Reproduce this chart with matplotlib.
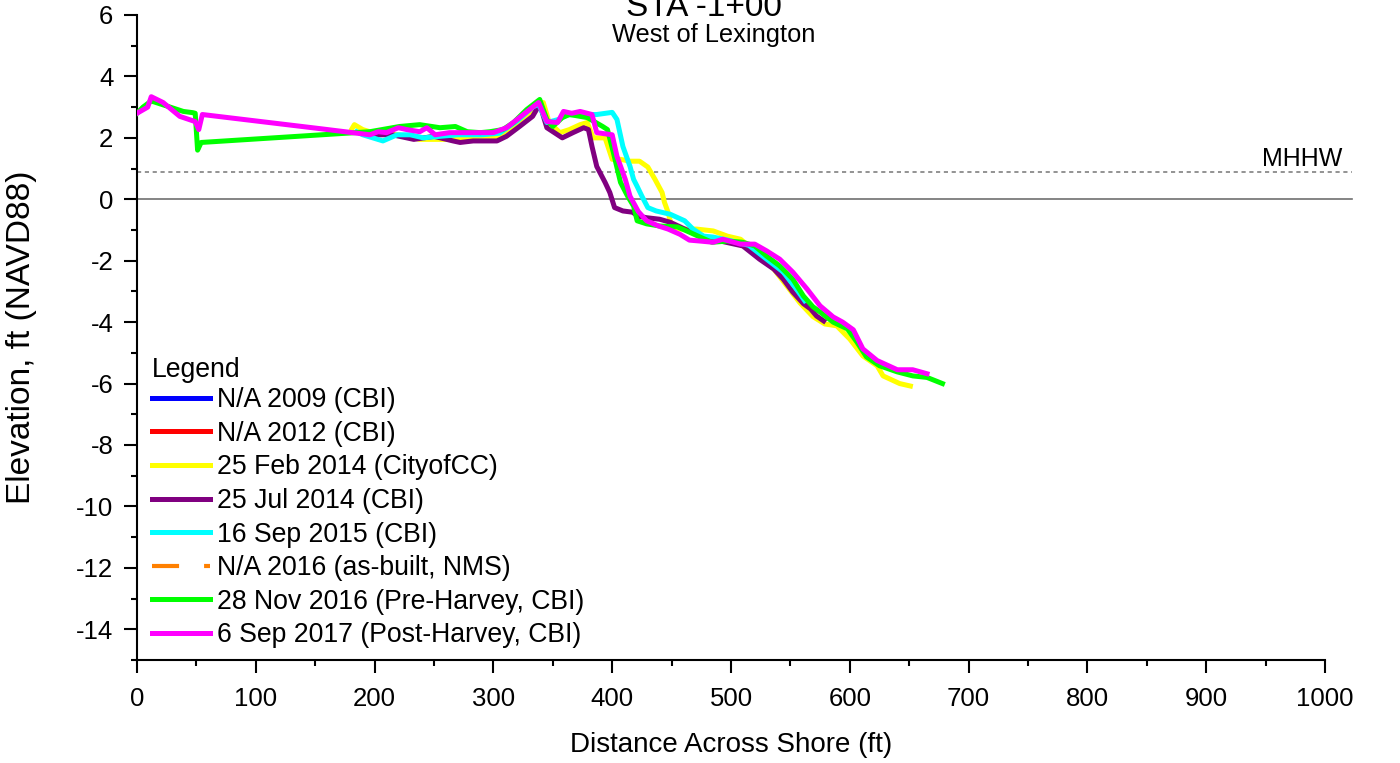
#!/usr/bin/env python3
# Beach profile, STA -1+00 (West of Lexington)

import matplotlib
matplotlib.use('Agg')
import matplotlib.pyplot as plt
from matplotlib.ticker import MultipleLocator

# survey profiles: distance across shore (ft) and elevation (ft NAVD88)
feb2014_x = [181, 183, 190, 200, 220, 238, 263, 289, 306, 320, 333, 342, 347, 356, 364, 373, 379, 384, 394,
             400, 407, 415, 423, 430, 436, 442, 444, 447, 450, 457, 471, 485, 497, 508, 513, 524, 536, 547,
             558, 569, 579, 589, 600, 611, 623, 628, 642, 651]
feb2014_y = [2.3, 2.43, 2.27, 2.15, 2.1, 1.95, 1.95, 2.05, 2.05, 2.5, 2.9, 3.15, 2.5, 2.17, 2.27, 2.43, 2.5, 2.0, 2.0,
             1.3, 1.3, 1.24, 1.24, 1.05, 0.65, 0.22, -0.1, -0.42, -0.87, -0.97, -0.97, -1.03, -1.2, -1.3, -1.46,
             -1.85, -2.27, -2.82, -3.37, -3.82, -4.06, -4.12, -4.55, -5.1, -5.42, -5.75, -6.0, -6.08]

jul2014_x = [195, 203, 215, 233, 250, 266, 272, 283, 289, 303, 311, 322, 333, 339, 345, 358, 367, 376, 380, 383,
             387, 394, 398, 402, 409, 417, 422, 429, 440, 449, 460, 474, 490, 510, 524, 536, 544, 552, 561, 567,
             572, 578]
jul2014_y = [2.15, 2.1, 2.1, 1.95, 2.05, 1.9, 1.85, 1.9, 1.9, 1.9, 2.05, 2.37, 2.7, 3.1, 2.33, 2.0, 2.17, 2.33,
             2.27, 1.72, 1.07, 0.55, 0.22, -0.27, -0.38, -0.42, -0.55, -0.6, -0.65, -0.75, -0.95, -1.2, -1.35,
             -1.52, -1.95, -2.27, -2.6, -3.02, -3.4, -3.57, -3.8, -3.96]

sep2015_x = [185, 190, 207, 219, 230, 241, 255, 270, 290, 305, 320, 333, 338, 345, 355, 362, 370, 387, 400, 404,
             409, 415, 418, 421, 425, 430, 437, 449, 461, 468, 477, 485, 500, 515, 530, 544, 555, 562]
sep2015_y = [2.2, 2.1, 1.9, 2.1, 2.1, 2.0, 2.05, 2.1, 2.1, 2.15, 2.55, 3.0, 3.1, 2.5, 2.6, 2.75, 2.76, 2.76, 2.83,
             2.6, 1.72, 1.07, 0.65, 0.42, 0.1, -0.27, -0.38, -0.49, -0.7, -0.97, -1.2, -1.23, -1.35, -1.5,
             -1.95, -2.37, -2.92, -3.3]

nov2016_x = [0, 5, 12, 28, 39, 47, 49, 51, 54, 196, 221, 238, 255, 268, 278, 289, 297, 308, 317, 328, 339, 345,
             350, 358, 364, 373, 379, 392, 396, 401, 407, 413, 418, 421, 429, 440, 455, 465, 474, 484, 497, 510,
             520, 530, 541, 552, 561, 569, 575, 586, 598, 606, 614, 625, 640, 653, 665, 678]
nov2016_y = [2.8, 3.0, 3.2, 3.0, 2.86, 2.82, 2.8, 1.6, 1.85, 2.2, 2.37, 2.43, 2.33, 2.37, 2.2, 2.17, 2.2, 2.27,
             2.5, 2.92, 3.25, 2.6, 2.37, 2.66, 2.76, 2.7, 2.66, 2.37, 2.27, 1.52, 0.55, 0.1, -0.22, -0.7, -0.8,
             -0.87, -0.9, -1.07, -1.23, -1.4, -1.36, -1.4, -1.52, -1.85, -2.17, -2.6, -3.15, -3.5, -3.67, -4.0,
             -4.22, -4.65, -5.13, -5.42, -5.62, -5.75, -5.8, -6.0]

sep2017_x = [0, 9, 12, 22, 36, 49, 52, 55, 154, 196, 203, 210, 220, 227, 238, 244, 251, 263, 280, 289, 300, 311,
             322, 333, 338, 345, 354, 359, 366, 373, 383, 387, 400, 404, 411, 415, 422, 429, 439, 447, 457, 465,
             474, 485, 493, 508, 520, 530, 541, 552, 564, 575, 586, 594, 603, 611, 623, 640, 653, 665]
sep2017_y = [2.8, 3.0, 3.34, 3.15, 2.7, 2.53, 2.27, 2.76, 2.3, 2.1, 2.2, 2.17, 2.33, 2.27, 2.2, 2.33, 2.1, 2.17,
             2.17, 2.17, 2.17, 2.33, 2.66, 3.0, 3.15, 2.53, 2.5, 2.86, 2.8, 2.86, 2.76, 2.17, 2.1, 1.4, 0.65, 0.1,
             -0.4, -0.7, -0.87, -0.97, -1.14, -1.33, -1.36, -1.4, -1.3, -1.46, -1.46, -1.68, -1.95, -2.37, -2.92,
             -3.47, -3.83, -4.0, -4.25, -4.87, -5.25, -5.55, -5.55, -5.68]

mhhw = 0.88

# (label, x, y, colour, dashed) -- N/A surveys have no data, legend only
series = [
    ("N/A 2009 (CBI)", [], [], "#0000ff", False),
    ("N/A 2012 (CBI)", [], [], "#ff0000", False),
    ("25 Feb 2014 (CityofCC)", feb2014_x, feb2014_y, "#ffff00", False),
    ("25 Jul 2014 (CBI)", jul2014_x, jul2014_y, "#800080", False),
    ("16 Sep 2015 (CBI)", sep2015_x, sep2015_y, "#00ffff", False),
    ("N/A 2016 (as-built, NMS)", [], [], "#ff8000", True),
    ("28 Nov 2016 (Pre-Harvey, CBI)", nov2016_x, nov2016_y, "#00ff00", False),
    ("6 Sep 2017 (Post-Harvey, CBI)", sep2017_x, sep2017_y, "#ff00ff", False),
]

if __name__ == "__main__":
    plt.rcParams['font.family'] = ['Liberation Sans', 'DejaVu Sans']
    plt.rcParams['axes.unicode_minus'] = False
    fs = 19.2

    fig = plt.figure(figsize=(14, 7.63), dpi=100)
    ax = fig.add_axes([137/1400, 1 - 660/763, 1188/1400, 645/763])

    # reference lines, run a bit past the axis end
    ax.plot([0, 1023], [0, 0], color="#707070", lw=1.2, clip_on=False, zorder=1)
    ax.plot([0, 1023], [mhhw, mhhw], color="#808080", lw=1.2, ls=(0, (2.5, 2.2)), clip_on=False, zorder=1)
    ax.text(1015, 1.07, "MHHW", ha="right", va="baseline", fontsize=18)

    for i, (label, x, y, color, dashed) in enumerate(series):
        if dashed:
            ax.plot(x, y, color=color, lw=3.0, dashes=(6.5, 6), label=label, zorder=2 + i)
        else:
            ax.plot(x, y, color=color, lw=3.6, label=label, zorder=2 + i)

    ax.set_xlim(0, 1000)
    ax.set_ylim(-15, 6)
    ax.xaxis.set_major_locator(MultipleLocator(100))
    ax.xaxis.set_minor_locator(MultipleLocator(50))
    ax.yaxis.set_major_locator(MultipleLocator(2))
    ax.yaxis.set_minor_locator(MultipleLocator(1))
    ax.tick_params(which="major", length=9.5, width=1.5, labelsize=18.5)
    ax.tick_params(which="minor", length=4.5, width=1.5)
    ax.tick_params(axis="x", which="major", pad=10)
    ax.tick_params(axis="y", which="major", pad=7.5)
    for s in ["top", "right"]:
        ax.spines[s].set_visible(False)
    for s in ["left", "bottom"]:
        ax.spines[s].set_linewidth(1.5)

    ax.set_xlabel("Distance Across Shore (ft)", fontsize=20, labelpad=15)
    ax.set_ylabel("Elevation, ft (NAVD88)", fontsize=24, labelpad=28)

    # legend heading drawn on its own so its gap to the entries can be set
    fig.text(152/1400, 1 - 370/763, "Legend", ha="left", va="center", fontsize=fs)
    leg = ax.legend(loc="upper left", bbox_to_anchor=(0.0124, 0.423), frameon=False, fontsize=fs,
                    handlelength=2.2, handletextpad=0.26, labelspacing=0.285,
                    borderpad=0, borderaxespad=0)

    fig.text(704/1400, 1 - 16/763, "STA -1+00", ha="center", va="baseline", fontsize=24)
    fig.text(714/1400, 1 - 42/763, "West of Lexington", ha="center", va="baseline", fontsize=18.3)

    fig.savefig("out.png", dpi=100)
    plt.close(fig)
